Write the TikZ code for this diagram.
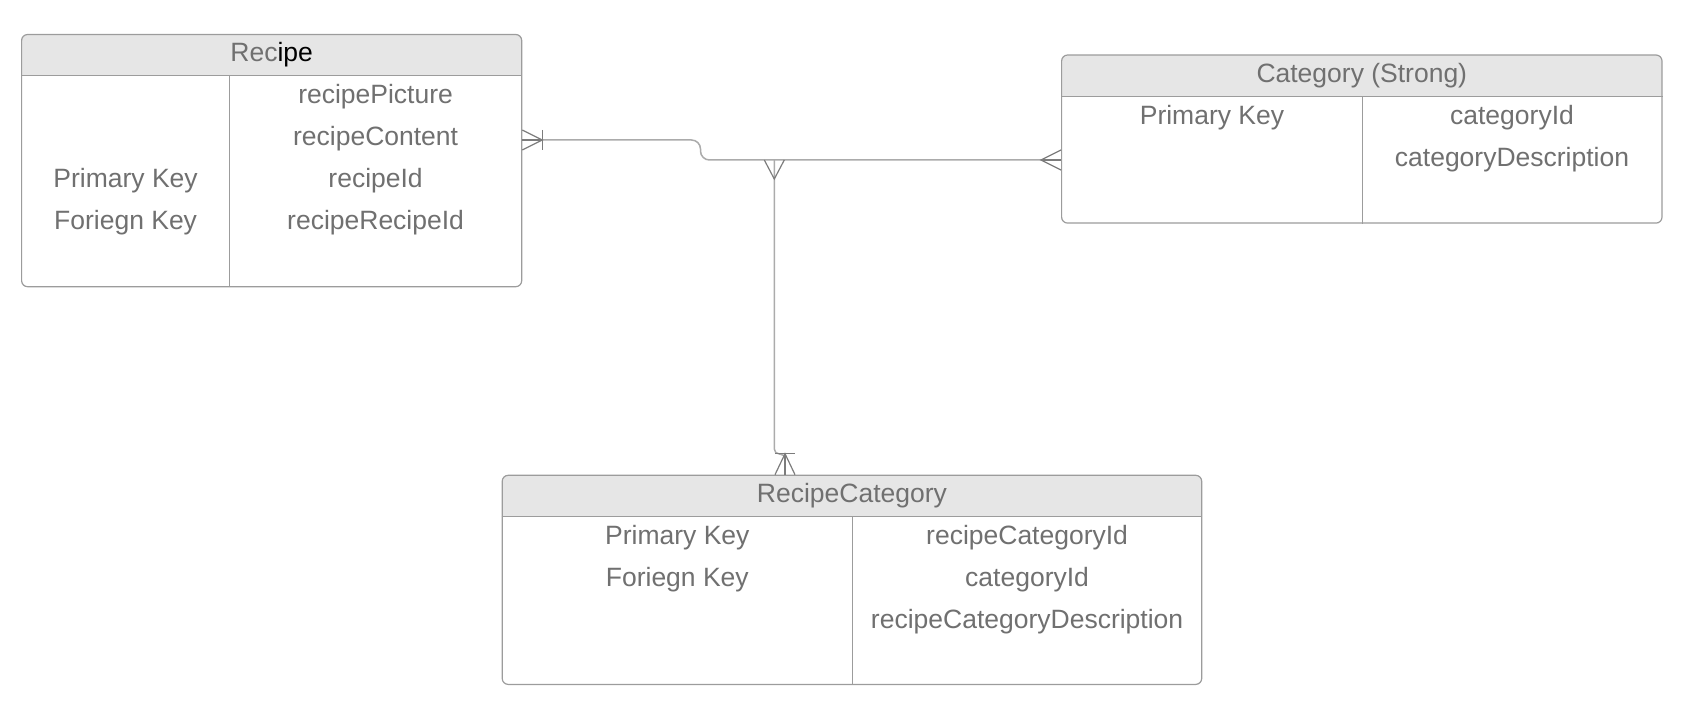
\documentclass[tikz,border=0pt]{standalone}
\usepackage{fontspec}
\setmainfont{Liberation Sans}
\usepackage{tikz}
\usepackage{xcolor}
\definecolor{txtgray}{HTML}{707070}
\definecolor{linegray}{HTML}{9C9C9C}
\definecolor{hdrgray}{HTML}{E6E6E6}
\definecolor{footgray}{HTML}{7C7C7C}
\tikzset{
    entity-box/.style = {draw=linegray, fill=white, line width=1.2pt, rectangle, rounded corners=6pt, inner sep=0pt,
        path picture={\fill[hdrgray, sharp corners] (path picture bounding box.north west) rectangle ([yshift=-42pt]path picture bounding box.north east);}},
    entity-rule/.style = {draw=linegray, line width=1.2pt},
    entity-text/.style = {text=txtgray, anchor=base, inner sep=0pt, font=\fontsize{26.5}{32}\selectfont},
    link/.style = {draw=linegray!85, line width=1.5pt},
    foot/.style = {draw=footgray, line width=1.2pt},
}

\begin{document}
\begin{tikzpicture}[x=1pt, y=-1pt]
\useasboundingbox (0,0) rectangle (1690,722);

% Recipe
\node[entity-box, minimum width=500.1pt, minimum height=252.2pt] (recipe) at (271.65,160.6) {};
\draw[entity-rule] ([yshift=-42pt]recipe.north west) -- ([yshift=-42pt]recipe.north east);
\draw[entity-rule] (229.6,76.5) -- (recipe.south -| 229.6,0);
\node[entity-text] (recipe-title) at (271.65,62) {Rec\textcolor{black}{ipe}};
\node[entity-text] (recipe-picture) at (375.6,104) {recipePicture};
\node[entity-text] (recipe-content) at (375.6,146) {recipeContent};
\node[entity-text] (recipe-id) at (375.6,188) {recipeId};
\node[entity-text] (recipe-recipe-id) at (375.6,230) {recipeRecipeId};
\node[entity-text] (recipe-pk) at (125.6,188) {Primary Key};
\node[entity-text] (recipe-fk) at (125.6,230) {Foriegn Key};

% Category
\node[entity-box, minimum width=600.4pt, minimum height=168.1pt] (category) at (1361.8,139.05) {};
\draw[entity-rule] ([yshift=-42pt]category.north west) -- ([yshift=-42pt]category.north east);
\draw[entity-rule] (1362.3,97) -- (category.south -| 1362.3,0);
\node[entity-text] (category-title) at (1361.8,82.5) {Category (Strong)};
\node[entity-text] (category-pk) at (1212,124.5) {Primary Key};
\node[entity-text] (category-id) at (1512,124.5) {categoryId};
\node[entity-text] (category-desc) at (1512,166.5) {categoryDescription};

% RecipeCategory
\node[entity-box, minimum width=699.5pt, minimum height=209.1pt] (recipecat) at (851.95,579.85) {};
\draw[entity-rule] ([yshift=-42pt]recipecat.north west) -- ([yshift=-42pt]recipecat.north east);
\draw[entity-rule] (852.5,517.3) -- (recipecat.south -| 852.5,0);
\node[entity-text] (recipecat-title) at (851.95,502.8) {RecipeCategory};
\node[entity-text] (recipecat-pk) at (677.3,544.8) {Primary Key};
\node[entity-text] (recipecat-fk) at (677.3,586.8) {Foriegn Key};
\node[entity-text] (recipecat-id) at (1027.1,544.8) {recipeCategoryId};
\node[entity-text] (recipecat-catid) at (1027.1,586.8) {categoryId};
\node[entity-text] (recipecat-desc) at (1027.1,628.8) {recipeCategoryDescription};

% connectors
\coordinate (recipe-out) at (recipe.east |- 0,140);
\coordinate (category-in) at (category.west |- 0,160);
\coordinate (junction) at (774.3,160);
\coordinate (recipecat-in) at (785,0 |- recipecat.north);

\draw[link, rounded corners=9pt] (recipe-out) -- (700.5,140) -- (700.5,160) -- (category-in);
\draw[link, rounded corners=5pt] (junction) -- (774.3,454) -- (785,454) -- (recipecat-in);

% recipe end: one or many
\draw[foot] (recipe-out) ++(0,-10) -- ++(20,10) -- ++(-20,10);
\draw[foot] (recipe-out) -- ++(20,0);
\draw[foot] (recipe-out) ++(20,-10) -- ++(0,20);
% category end: many
\draw[foot] (category-in) ++(0,-10) -- ++(-20,10) -- ++(20,10);
\draw[foot] (category-in) -- ++(-20,0);
% junction: many
\draw[foot] (junction) ++(-10,0) -- ++(10,19) -- ++(10,-19);
% recipecategory end: one or many
\draw[foot] (recipecat-in) ++(-10,0) -- ++(10,-21) -- ++(10,21);
\draw[foot] (recipecat-in) -- ++(0,-21);
\draw[foot] (recipecat-in) ++(-10,-21) -- ++(20,0);
\end{tikzpicture}
\end{document}
